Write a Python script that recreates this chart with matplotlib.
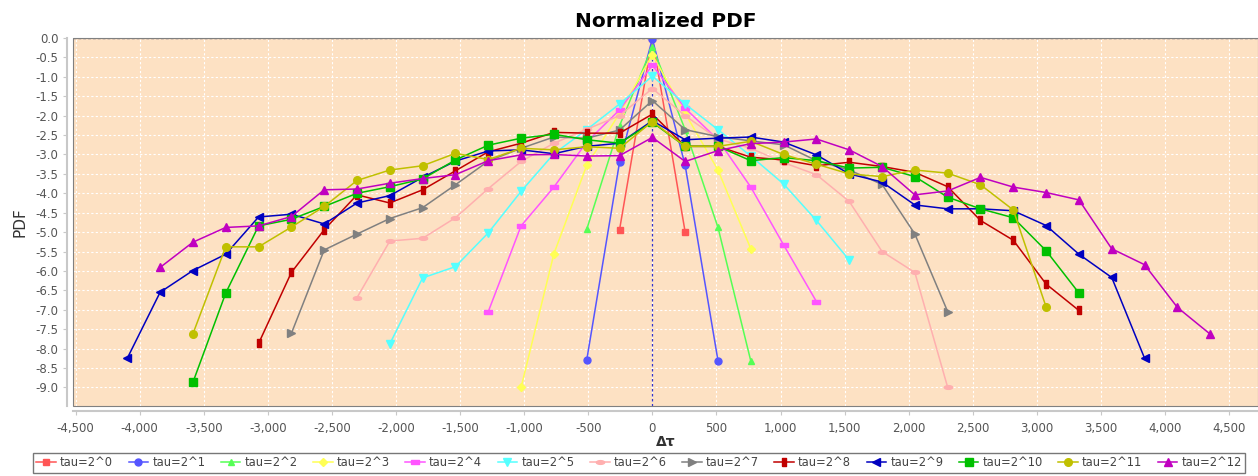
import numpy as np
import matplotlib
matplotlib.use("Agg")
import matplotlib.pyplot as plt
from matplotlib.path import Path
from matplotlib.patches import Rectangle
from matplotlib.ticker import FuncFormatter, MultipleLocator

# lag step between points, and first lag index of every series
step = 256
labels = ["tau=2^%d" % n for n in range(13)]
first_lag = [-1, -2, -2, -4, -5, -8, -9, -11, -12, -16, -14, -14, -15]

pdf_0 = [-4.94, 0.0, -5.00]
pdf_1 = [-8.30, -3.20, -0.02, -3.28, -8.31]
pdf_2 = [-4.93, -2.26, -0.22, -2.36, -4.88, -8.32]
pdf_3 = [-9.0, -5.56, -3.28, -1.94, -0.43, -1.94, -3.40, -5.43]
pdf_4 = [-7.05, -4.84, -3.84, -2.68, -1.85, -0.70, -1.81, -2.62, -3.84, -5.33, -6.79]
pdf_5 = [-7.88, -6.18, -5.89, -5.02, -3.95, -2.98, -2.36, -1.70, -0.98,
         -1.70, -2.36, -3.04, -3.76, -4.70, -5.72]
pdf_6 = [-6.69, -5.23, -5.16, -4.63, -3.88, -3.18, -2.71, -2.35, -2.00, -1.30,
         -2.00, -2.60, -2.84, -3.21, -3.52, -4.21, -5.50, -6.04, -9.0]
pdf_7 = [-7.61, -5.46, -5.05, -4.65, -4.37, -3.78, -3.17, -2.84, -2.55, -2.58, -2.37,
         -1.61, -2.36, -2.54, -2.65, -2.75, -3.16, -3.40, -3.77, -5.05, -7.05]
pdf_8 = [-7.87, -6.04, -4.94, -4.04, -4.25, -3.91, -3.42, -2.93, -2.71, -2.43, -2.45,
         -2.45, -1.96, -2.79, -2.79, -3.07, -3.14, -3.29, -3.20, -3.31, -3.46, -3.83,
         -4.70, -5.21, -6.34, -7.02]
pdf_9 = [-8.25, -6.55, -5.99, -5.57, -4.61, -4.54, -4.79, -4.25, -4.06, -3.59, -3.17,
         -2.91, -2.88, -2.98, -2.79, -2.71, -2.13, -2.62, -2.58, -2.55, -2.68, -3.01,
         -3.50, -3.71, -4.30, -4.40, -4.40, -4.45, -4.83, -5.57, -6.17, -8.25]
pdf_10 = [-8.87, -6.57, -4.84, -4.67, -4.34, -4.00, -3.83, -3.63, -3.14, -2.76, -2.58,
          -2.48, -2.62, -2.71, -2.17, -2.79, -2.79, -3.16, -3.08, -3.16, -3.35, -3.33,
          -3.57, -4.10, -4.40, -4.63, -5.48, -6.57]
pdf_11 = [-7.62, -5.38, -5.38, -4.87, -4.34, -3.67, -3.40, -3.29, -2.97, -3.13, -2.84,
          -2.88, -2.80, -2.84, -2.15, -2.79, -2.79, -2.66, -3.00, -3.25, -3.50, -3.57,
          -3.40, -3.48, -3.78, -4.43, -6.93]
pdf_12 = [-5.91, -5.26, -4.88, -4.84, -4.60, -3.91, -3.89, -3.74, -3.62, -3.52, -3.16,
          -3.01, -3.00, -3.04, -3.03, -2.56, -3.18, -2.90, -2.72, -2.68, -2.60, -2.88,
          -3.31, -4.04, -3.94, -3.59, -3.84, -3.98, -4.17, -5.43, -5.84, -6.94, -7.63]
all_pdf = [pdf_0, pdf_1, pdf_2, pdf_3, pdf_4, pdf_5, pdf_6, pdf_7, pdf_8,
           pdf_9, pdf_10, pdf_11, pdf_12]

colors = ["#ff5555", "#5555ff", "#55ff55", "#ffff55", "#ff55ff", "#55ffff", "#ffafaf",
          "#808080", "#c00000", "#0000c0", "#00c000", "#c0c000", "#c000c0"]

# jfreechart style shapes
h_rect = Path([(-1, -0.4), (1, -0.4), (1, 0.4), (-1, 0.4), (-1, -0.4)])
v_rect = Path([(-0.6, -1), (0.6, -1), (0.6, 1), (-0.6, 1), (-0.6, -1)])
t = np.linspace(0, 2 * np.pi, 30)
h_ell = Path(np.column_stack([np.cos(t), 0.45 * np.sin(t)]))
markers = ["s", "o", "^", "D", h_rect, "v", h_ell, ">", v_rect, "<", "s", "o", "^"]
sizes = [5, 5, 5, 4, 6, 5.5, 6, 5.5, 5.5, 5.5, 5.5, 5.5, 5.5]

fig = plt.figure(figsize=(12.58, 4.76), dpi=100)
ax = fig.add_axes([0.058, 0.148, 0.942, 0.772])
ax.set_facecolor("#fde1c3")

for i, vals in enumerate(all_pdf):
    x = [(first_lag[i] + j) * step for j in range(len(vals))]
    ax.plot(x, vals, color=colors[i], marker=markers[i], markersize=sizes[i],
            linewidth=1.1, label=labels[i], zorder=3 + i * 0.01)

ax.axvline(0, color="#3333cc", linestyle=(0, (2, 2)), linewidth=0.9, zorder=2)
ax.axhline(0, color="#555577", linestyle=(0, (2, 1.5)), linewidth=1.0, zorder=2)

ax.set_xlim(-4520, 4725)
ax.set_ylim(-9.47, 0.0)
ax.xaxis.set_major_locator(MultipleLocator(500))
ax.yaxis.set_major_locator(MultipleLocator(0.5))
ax.xaxis.set_major_formatter(FuncFormatter(lambda v, p: "{:,.0f}".format(v)))
ax.yaxis.set_major_formatter(FuncFormatter(lambda v, p: "%.1f" % v))
ax.grid(True, color="white", linestyle=(0, (2, 2)), linewidth=0.8)
ax.set_axisbelow(True)

for s in ["top", "right"]:
    ax.spines[s].set_visible(False)
for s in ["left", "bottom"]:
    ax.spines[s].set_position(("outward", 4))
    ax.spines[s].set_color("#c8c8c8")
    ax.spines[s].set_linewidth(1.5)
ax.add_patch(Rectangle((0, 0), 1, 1, transform=ax.transAxes, fill=False,
                       edgecolor="#808080", linewidth=0.8, zorder=10, clip_on=False))
ax.tick_params(colors="#c8c8c8", labelcolor="#555555", labelsize=8.5, length=3)
ax.tick_params(axis="x", pad=5)

ax.set_title("Normalized PDF", fontsize=14.5, fontweight="bold", pad=8)
ax.set_xlabel("Δτ", fontsize=10, fontweight="bold", color="#333333", labelpad=0)
ax.set_ylabel("PDF", fontsize=11, color="#333333", labelpad=6)

leg = fig.legend(loc="lower center", bbox_to_anchor=(0.508, 0.0), ncol=13,
                 fontsize=8.3, frameon=True, fancybox=False, handlelength=1.7,
                 handletextpad=0.35, columnspacing=1.35, borderpad=0.3,
                 borderaxespad=0.3)
leg.get_frame().set_edgecolor("#555555")
leg.get_frame().set_linewidth(1.0)
for txt in leg.get_texts():
    txt.set_color("#444444")

fig.savefig("out.png", dpi=100)
